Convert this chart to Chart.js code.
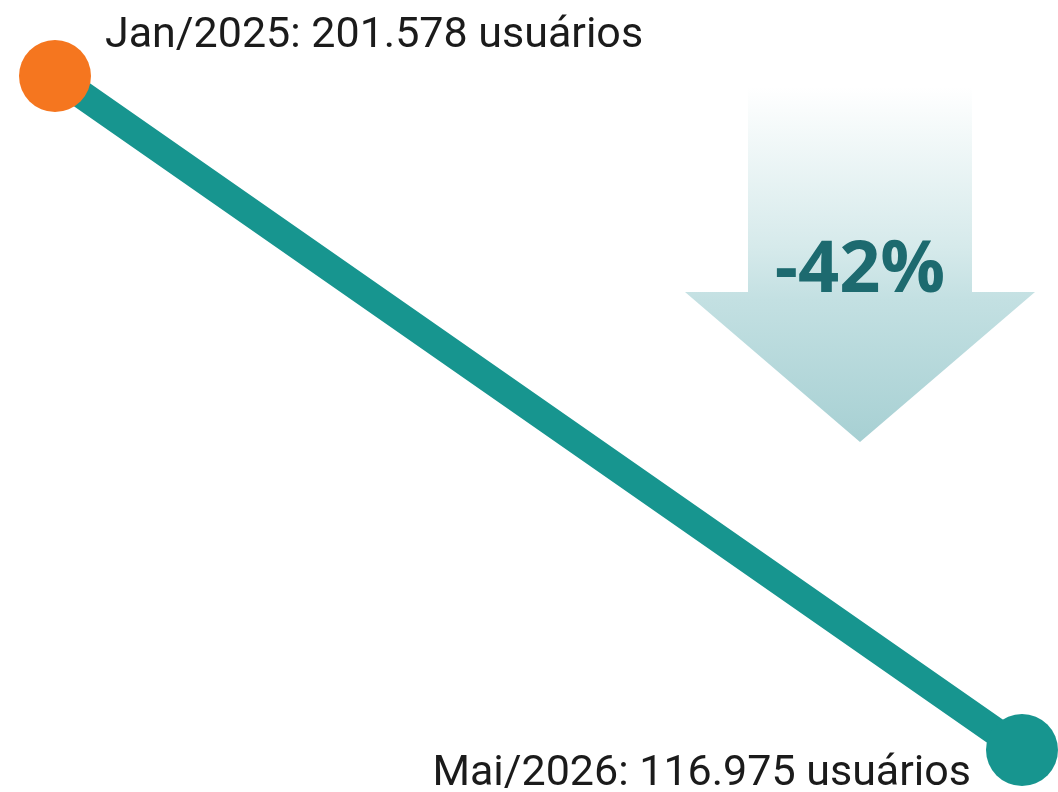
<!DOCTYPE html>
<html>
<head>
<meta charset="utf-8">
<script src="https://cdn.jsdelivr.net/npm/chart.js@4.4.1/dist/chart.umd.min.js"></script>
<style>
  html, body { margin: 0; padding: 0; background: #ffffff; }
  #wrap { width: 1058px; height: 792px; position: relative; }
</style>
</head>
<body>
<div id="wrap"><canvas id="grafico"></canvas></div>
<script>
// dados do grafico
var meses = ["Jan/2025", "Mai/2026"];
var usuarios = [201578, 116975];
var rotulos = ["Jan/2025: 201.578 usuários", "Mai/2026: 116.975 usuários"];
var variacao = "-42%";
var coresPontos = ["#f5761f", "#17958f"];

// seta com gradiente e texto -42%
var pluginSeta = {
    id: "seta",
    beforeDatasetsDraw: function (chart) {
        var ctx = chart.ctx;
        ctx.save();
        var grad = ctx.createLinearGradient(0, 87, 0, 442);
        grad.addColorStop(0, "rgba(255,255,255,1)");
        grad.addColorStop(0.45, "#d6eaeb");
        grad.addColorStop(0.6, "#c3e0e2");
        grad.addColorStop(1, "#a7d0d3");
        ctx.fillStyle = grad;
        ctx.beginPath();
        ctx.moveTo(748, 87);
        ctx.lineTo(972, 87);
        ctx.lineTo(972, 292);
        ctx.lineTo(1035, 292);
        ctx.lineTo(860, 442);
        ctx.lineTo(685, 292);
        ctx.lineTo(748, 292);
        ctx.closePath();
        ctx.fill();

        ctx.fillStyle = "#1d6a6f";
        ctx.font = "bold 72px 'Open Sans'";
        ctx.textAlign = "center";
        ctx.textBaseline = "alphabetic";
        ctx.fillText(variacao, 860, 292);
        ctx.restore();
    },
    afterDatasetsDraw: function (chart) {
        var ctx = chart.ctx;
        var pontos = chart.getDatasetMeta(0).data;
        ctx.save();
        ctx.fillStyle = "#1b1b1b";
        ctx.font = "43px Roboto";
        ctx.textBaseline = "alphabetic";
        ctx.textAlign = "left";
        ctx.fillText(rotulos[0], pontos[0].x + 50, pontos[0].y - 29);
        ctx.textAlign = "right";
        ctx.fillText(rotulos[1], pontos[1].x - 51, pontos[1].y + 35);
        ctx.restore();
    }
};

new Chart(document.getElementById("grafico"), {
    type: "line",
    data: {
        labels: meses,
        datasets: [{
            data: usuarios,
            borderColor: "#17958f",
            borderWidth: 28,
            borderCapStyle: "round",
            pointRadius: 36,
            pointHoverRadius: 36,
            pointBackgroundColor: coresPontos,
            pointBorderWidth: 0,
            clip: false,
            tension: 0
        }]
    },
    options: {
        responsive: true,
        maintainAspectRatio: false,
        animation: { duration: 0 },
        layout: { padding: { left: 55, right: 29, top: 76, bottom: 42 } },
        plugins: { legend: { display: false }, tooltip: { enabled: false } },
        scales: {
            x: { display: false, offset: false },
            y: { display: false, min: usuarios[1], max: usuarios[0] }
        }
    },
    plugins: [pluginSeta]
});
</script>
</body>
</html>
